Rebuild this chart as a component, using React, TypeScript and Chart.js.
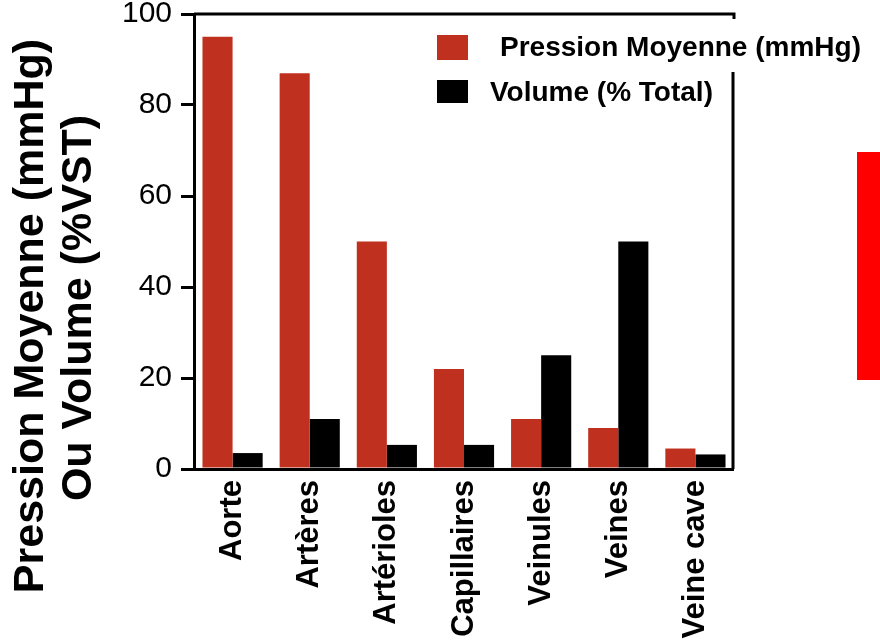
import React, { useEffect, useRef } from "react";
import { Chart, registerables } from "chart.js";

Chart.register(...registerables);

const categories = ["Aorte", "Artères", "Artérioles", "Capillaires", "Veinules", "Veines", "Veine cave"];
const pressionMoyenne = [95, 87, 50, 22, 11, 9, 4.5];
const volumeTotal = [3.5, 11, 5.3, 5.3, 25, 50, 3.2];
const yTicks = [0, 20, 40, 60, 80, 100];
const seriesLabels = ["Pression Moyenne (mmHg)", "Volume (% Total)"];
const yTitleLines = ["Pression Moyenne (mmHg)", "Ou Volume (%VST)"];

const RED = "#c0301f";
const BLACK = "#000000";
const FONT = "'Liberation Sans', Arial, Helvetica, sans-serif";

const decorPlugin = {
  id: "decor",
  afterDraw(chart: any) {
    const { ctx, chartArea: a } = chart;
    ctx.save();
    // top and right frame
    ctx.strokeStyle = "#000";
    ctx.lineWidth = 3;
    ctx.lineCap = "butt";
    ctx.beginPath();
    ctx.moveTo(a.left, a.top);
    ctx.lineTo(a.right, a.top);
    ctx.lineTo(a.right, a.top + 5);
    ctx.stroke();
    ctx.beginPath();
    ctx.moveTo(a.right - 1, 72);
    ctx.lineTo(a.right - 1, a.bottom);
    ctx.stroke();

    // legend
    const ds = chart.data.datasets;
    ctx.fillStyle = ds[0].backgroundColor;
    ctx.fillRect(437, 35, 31, 25);
    ctx.fillStyle = ds[1].backgroundColor;
    ctx.fillRect(437, 80, 31, 23);
    ctx.fillStyle = "#000";
    ctx.font = `bold 28px ${FONT}`;
    ctx.textAlign = "left";
    ctx.textBaseline = "middle";
    ctx.fillText(ds[0].label, 500, 48);
    ctx.fillText(ds[1].label, 490, 93);

    // y title (two lines)
    ctx.font = `bold 43px ${FONT}`;
    ctx.textAlign = "center";
    const xs = [31, 79];
    const ys = [316, 308];
    yTitleLines.forEach((t, i) => {
      ctx.save();
      ctx.translate(xs[i], ys[i]);
      ctx.rotate(-Math.PI / 2);
      ctx.fillText(t, 0, 0);
      ctx.restore();
    });
    ctx.restore();
  },
};

export default function App() {
  const ref = useRef<HTMLCanvasElement>(null);
  useEffect(() => {
    if (!ref.current) return;
    const chart = new Chart(ref.current, {
      type: "bar",
      data: {
        labels: categories,
        datasets: [
          {
            label: seriesLabels[0],
            data: pressionMoyenne,
            backgroundColor: RED,
            borderWidth: 0,
            categoryPercentage: 0.78,
            barPercentage: 1,
          },
          {
            label: seriesLabels[1],
            data: volumeTotal,
            backgroundColor: BLACK,
            borderWidth: 0,
            categoryPercentage: 0.78,
            barPercentage: 1,
          },
        ],
      },
      options: {
        responsive: false,
        animation: false,
        layout: { padding: { top: 14, right: 146, left: 0, bottom: 0 } },
        plugins: {
          legend: { display: false },
          tooltip: { enabled: false },
          title: { display: false },
        },
        scales: {
          x: {
            grid: { display: true, drawOnChartArea: false, drawTicks: false, color: "#000", lineWidth: 0 },
            border: { display: true, color: "#000", width: 3 },
            ticks: {
              color: "#000",
              font: { family: FONT, size: 31, weight: "bold" },
              minRotation: 90,
              maxRotation: 90,
              autoSkip: false,
              padding: 11,
            },
            afterFit(scale: any) {
              scale.height = 173;
              scale.paddingLeft = 0;
              scale.paddingRight = 0;
            },
          },
          y: {
            min: 0,
            max: 100,
            afterBuildTicks(scale: any) {
              scale.ticks = yTicks.map((v) => ({ value: v }));
            },
            grid: {
              display: true,
              drawOnChartArea: false,
              drawTicks: true,
              tickLength: 13,
              lineWidth: 3,
              color: "#000",
            },
            border: { display: true, color: "#000", width: 3 },
            ticks: {
              color: "#000",
              font: { family: FONT, size: 30 },
              padding: 9,
            },
            afterFit(scale: any) {
              scale.width = 194;
              scale.paddingTop = 0;
              scale.paddingBottom = 0;
            },
          },
        },
      },
      plugins: [decorPlugin],
    });
    return () => chart.destroy();
  }, []);

  return (
    <div style={{ position: "fixed", left: 0, top: 0, width: 880, height: 642, background: "#fff" }}>
      <canvas ref={ref} width={880} height={642} style={{ width: 880, height: 642, display: "block" }} />
      <div
        style={{
          position: "absolute",
          left: 857,
          top: 152,
          width: 23,
          height: 228,
          background: "#ff0000",
        }}
      />
    </div>
  );
}
